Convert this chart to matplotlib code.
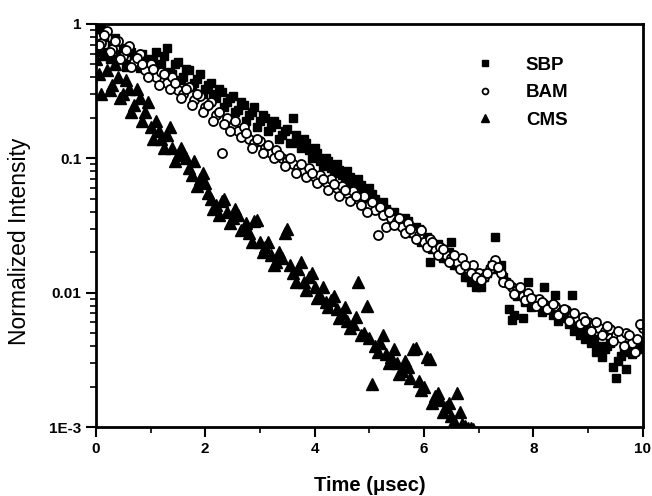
import matplotlib
matplotlib.use("Agg")
import matplotlib.pyplot as plt
import numpy as np

## data
# two interleaved sampling sweeps (usec)
t_a = np.round(np.arange(0, 10.01, 0.1), 2)
t_b = np.round(np.arange(0.05, 9.96, 0.1), 2)
tc_a = np.round(np.arange(0, 6.91, 0.1), 2)
tc_b = np.round(np.arange(0.05, 6.86, 0.1), 2)

# SBP
sbp_a = [0.75, 0.93, 0.62, 0.70, 0.55, 0.66, 0.50, 0.58, 0.47, 0.55,
         0.45, 0.62, 0.50, 0.66, 0.42, 0.52, 0.40, 0.45, 0.36, 0.42,
         0.33, 0.36, 0.28, 0.31, 0.26, 0.29, 0.23, 0.25, 0.21, 0.24,
         0.19, 0.20, 0.17, 0.18, 0.15, 0.165, 0.20, 0.13, 0.14, 0.115,
         0.12, 0.095, 0.10, 0.085, 0.09, 0.075, 0.08, 0.065, 0.07, 0.055,
         0.06, 0.05, 0.045, 0.042, 0.038, 0.036, 0.032, 0.034, 0.028, 0.030,
         0.025, 0.017, 0.022, 0.020, 0.018, 0.024, 0.016, 0.015, 0.013, 0.014,
         0.012, 0.013, 0.015, 0.026, 0.016, 0.012, 0.0063, 0.0095, 0.0065, 0.012,
         0.009, 0.0085, 0.011, 0.0075, 0.0096, 0.0070, 0.0065, 0.0096, 0.0060, 0.0055,
         0.0050, 0.0045, 0.0040, 0.0038, 0.0042, 0.0023, 0.0034, 0.0027, 0.0035, 0.0040,
         0.0038]
sbp_b = [0.62, 0.80, 0.55, 0.78, 0.60, 0.48, 0.62, 0.52, 0.60, 0.42,
         0.55, 0.48, 0.58, 0.44, 0.50, 0.38, 0.46, 0.34, 0.39, 0.30,
         0.35, 0.30, 0.33, 0.24, 0.28, 0.22, 0.26, 0.19, 0.22, 0.17,
         0.21, 0.16, 0.19, 0.14, 0.16, 0.13, 0.15, 0.12, 0.13, 0.10,
         0.11, 0.088, 0.095, 0.078, 0.082, 0.068, 0.072, 0.058, 0.063, 0.05,
         0.054, 0.044, 0.047, 0.038, 0.040, 0.032, 0.036, 0.029, 0.031, 0.024,
         0.026, 0.021, 0.023, 0.018, 0.020, 0.016, 0.017, 0.013, 0.012, 0.011,
         0.011, 0.014, 0.016, 0.015, 0.013, 0.0075, 0.0068, 0.0105, 0.0085, 0.0078,
         0.0082, 0.0072, 0.0075, 0.0068, 0.0062, 0.0070, 0.0058, 0.0052, 0.0048, 0.0045,
         0.0042, 0.0036, 0.0033, 0.0040, 0.0028, 0.0031, 0.0036, 0.0041, 0.0037, 0.0043]

# BAM
bam_a = [0.80, 0.72, 0.88, 0.65, 0.75, 0.58, 0.68, 0.52, 0.60, 0.45,
         0.50, 0.40, 0.44, 0.36, 0.40, 0.32, 0.30, 0.34, 0.27, 0.29,
         0.24, 0.26, 0.21, 0.11, 0.20, 0.175, 0.16, 0.17, 0.14, 0.13,
         0.135, 0.12, 0.11, 0.115, 0.10, 0.095, 0.09, 0.085, 0.08, 0.085,
         0.072, 0.075, 0.066, 0.07, 0.06, 0.062, 0.055, 0.057, 0.05, 0.052,
         0.045, 0.041, 0.043, 0.031, 0.036, 0.034, 0.031, 0.033, 0.028, 0.027,
         0.024, 0.025, 0.021, 0.022, 0.019, 0.018, 0.017, 0.018, 0.015, 0.016,
         0.014, 0.013, 0.015, 0.0175, 0.014, 0.012, 0.011, 0.0105, 0.0095, 0.010,
         0.0088, 0.009, 0.0082, 0.0078, 0.008, 0.0072, 0.0074, 0.0068, 0.0065, 0.0066,
         0.006, 0.0058, 0.0055, 0.0052, 0.0054, 0.0048, 0.0046, 0.0050, 0.0042, 0.0045,
         0.0055]
bam_b = [0.70, 0.82, 0.62, 0.74, 0.55, 0.64, 0.48, 0.56, 0.50, 0.40,
         0.46, 0.35, 0.42, 0.33, 0.36, 0.28, 0.33, 0.25, 0.30, 0.22,
         0.25, 0.19, 0.22, 0.18, 0.16, 0.19, 0.145, 0.155, 0.12, 0.14,
         0.11, 0.125, 0.10, 0.105, 0.088, 0.10, 0.078, 0.09, 0.072, 0.078,
         0.065, 0.07, 0.058, 0.064, 0.052, 0.058, 0.048, 0.052, 0.045, 0.040,
         0.047, 0.027, 0.038, 0.040, 0.032, 0.036, 0.028, 0.030, 0.025, 0.029,
         0.022, 0.024, 0.019, 0.021, 0.017, 0.019, 0.015, 0.016, 0.014, 0.013,
         0.0125, 0.014, 0.016, 0.0155, 0.012, 0.0115, 0.0098, 0.011, 0.0088, 0.0092,
         0.0080, 0.0085, 0.0075, 0.0082, 0.0068, 0.0076, 0.0062, 0.0070, 0.0058, 0.0062,
         0.0052, 0.0060, 0.0048, 0.0056, 0.0044, 0.0052, 0.0040, 0.0048, 0.0036, 0.0058]

# CMS
cms_a = [0.55, 0.30, 0.45, 0.35, 0.40, 0.30, 0.33, 0.25, 0.28, 0.22,
         0.17, 0.19, 0.14, 0.15, 0.12, 0.105, 0.11, 0.085, 0.095, 0.07,
         0.065, 0.05, 0.045, 0.048, 0.04, 0.036, 0.038, 0.03, 0.028, 0.034,
         0.024, 0.022, 0.019, 0.017, 0.018, 0.030, 0.014, 0.015, 0.012, 0.013,
         0.011, 0.0095, 0.0085, 0.0088, 0.0075, 0.0070, 0.0062, 0.0058, 0.012, 0.0050,
         0.0046, 0.0040, 0.0042, 0.0035, 0.0033, 0.0030, 0.0026, 0.0028, 0.0038, 0.0022,
         0.0020, 0.0032, 0.0017, 0.0016, 0.0014, 0.0012, 0.0018, 0.00105, 0.00098, 0.00096]
cms_b = [0.42, 0.60, 0.32, 0.50, 0.28, 0.38, 0.22, 0.33, 0.19, 0.26,
         0.14, 0.16, 0.12, 0.17, 0.095, 0.12, 0.10, 0.075, 0.062, 0.078,
         0.055, 0.042, 0.038, 0.050, 0.033, 0.042, 0.029, 0.033, 0.024, 0.035,
         0.020, 0.024, 0.016, 0.020, 0.028, 0.016, 0.012, 0.017, 0.0105, 0.014,
         0.0092, 0.011, 0.0078, 0.0095, 0.0065, 0.0078, 0.0055, 0.0066, 0.0048, 0.0080,
         0.0021, 0.0036, 0.0048, 0.0030, 0.0038, 0.0025, 0.0031, 0.0023, 0.0039, 0.0019,
         0.0033, 0.0015, 0.0018, 0.0013, 0.0015, 0.0011, 0.0013, 0.00102, 0.00099]

t_sbp = np.concatenate([t_a, t_b])
t_cms = np.concatenate([tc_a, tc_b])
sbp = sbp_a + sbp_b
bam = bam_a + bam_b
cms = cms_a + cms_b

## plot!
plt.rcParams['font.family'] = ['Liberation Sans', 'DejaVu Sans']
fig = plt.figure(figsize=(6.52, 4.96), dpi=100)
ax = fig.add_axes([0.147, 0.139, 0.839, 0.813])

ax.plot(t_sbp, sbp, 's', color='black', markersize=6, label='SBP')
ax.plot(t_sbp, bam, 'o', markerfacecolor='white', markeredgecolor='black',
        markeredgewidth=1.3, markersize=6.5, label='BAM')
ax.plot(t_cms, cms, '^', color='black', markersize=8, label='CMS')

## pretty~
ax.set_yscale('log')
ax.set_xlim(0, 10)
ax.set_ylim(1e-3, 1)
ax.set_xticks([0, 2, 4, 6, 8, 10])
ax.set_xticks([1, 3, 5, 7, 9], minor=True)
ax.set_yticks([1e-3, 1e-2, 1e-1, 1])
ax.set_yticklabels(['1E-3', '0.01', '0.1', '1'])
for lab in ax.get_xticklabels() + ax.get_yticklabels():
    lab.set_fontweight('bold')
    lab.set_fontsize(11)

ax.tick_params(which='major', direction='out', length=7, width=1.5)
ax.tick_params(which='minor', direction='out', length=4, width=1.2)
for s in ax.spines.values():
    s.set_linewidth(2)

ax.set_xlabel('Time (\u03bcsec)', fontsize=14.5, fontweight='bold', labelpad=15)
ax.set_ylabel('Normalized Intensity', fontsize=16.5)
ax.yaxis.set_label_coords(-0.118, 0.46)

ax.legend(loc='upper right', bbox_to_anchor=(0.895, 0.96), frameon=False,
          markerscale=0.65, handletextpad=1.2, labelspacing=0.55,
          prop={'weight': 'bold', 'size': 13.5})

fig.savefig('out.png', dpi=100)
